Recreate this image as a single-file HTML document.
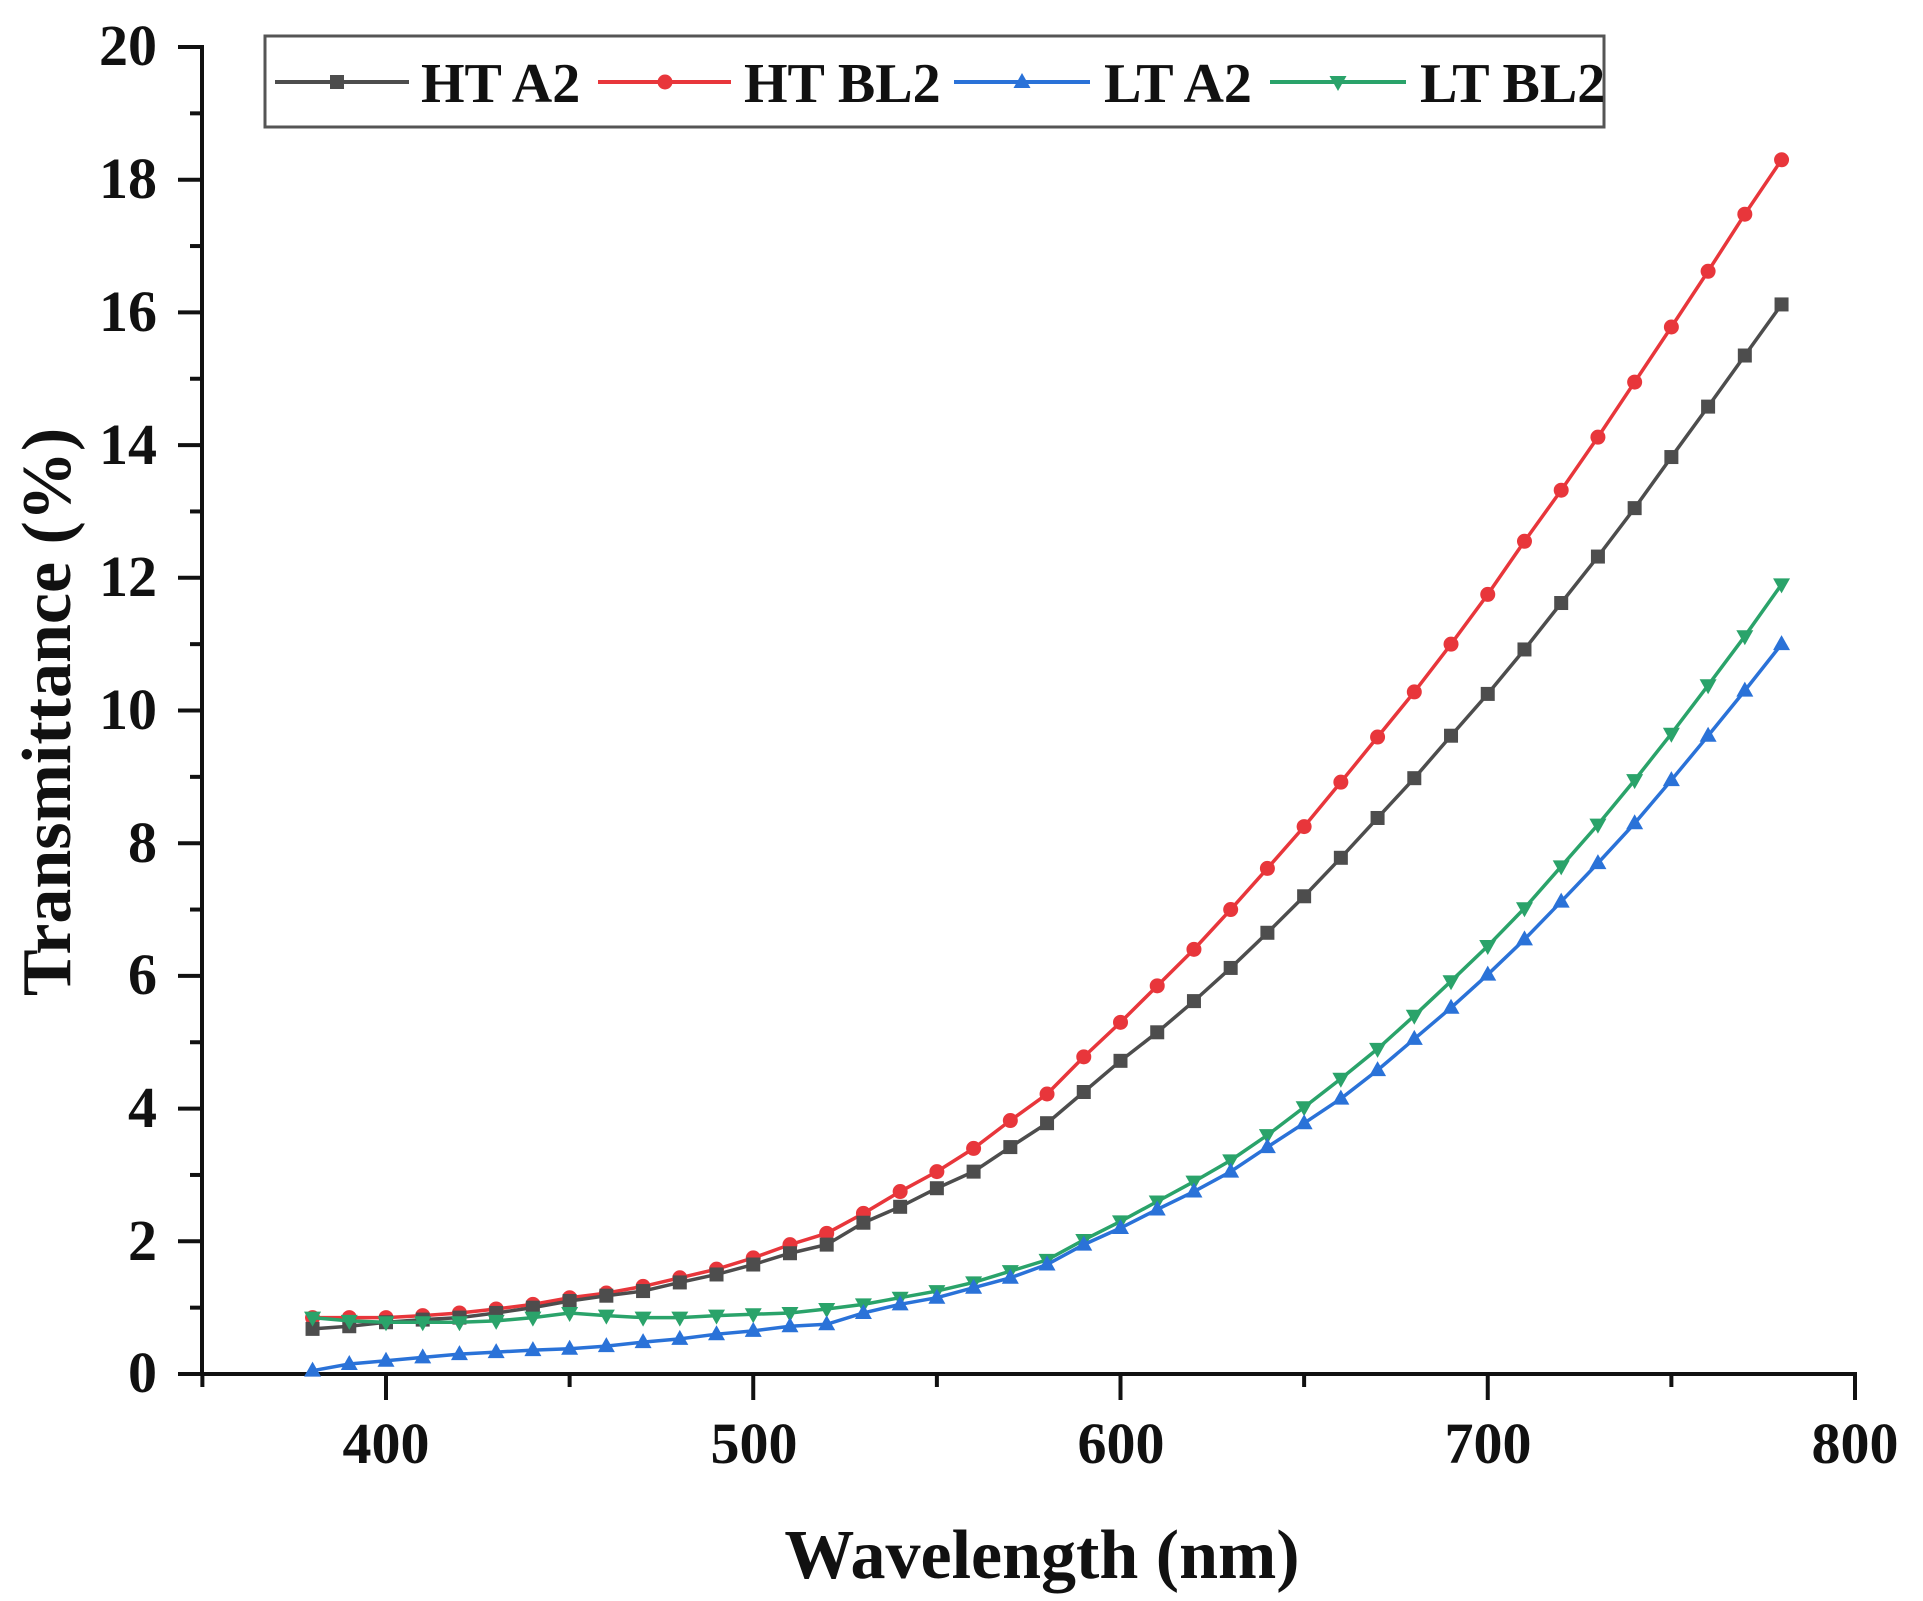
<!DOCTYPE html>
<html><head><meta charset="utf-8"><style>
html,body{margin:0;padding:0;background:#fff;}
svg{display:block;}
text{font-family:"Liberation Serif",serif;font-weight:bold;fill:#111;}
</style></head><body>
<svg id="s" width="1923" height="1601" viewBox="0 0 1923 1601" xmlns="http://www.w3.org/2000/svg">
<g id="axes" stroke="#111" stroke-width="4" fill="none"></g>
<g font-size="58">
<text x="157" y="1392" text-anchor="end">0</text>
<text x="157" y="1260" text-anchor="end">2</text>
<text x="157" y="1127" text-anchor="end">4</text>
<text x="157" y="994" text-anchor="end">6</text>
<text x="157" y="862" text-anchor="end">8</text>
<text x="157" y="729" text-anchor="end">10</text>
<text x="157" y="596" text-anchor="end">12</text>
<text x="157" y="464" text-anchor="end">14</text>
<text x="157" y="331" text-anchor="end">16</text>
<text x="157" y="198" text-anchor="end">18</text>
<text x="157" y="65" text-anchor="end">20</text>
<text x="386" y="1463" text-anchor="middle">400</text>
<text x="754" y="1463" text-anchor="middle">500</text>
<text x="1121" y="1463" text-anchor="middle">600</text>
<text x="1488" y="1463" text-anchor="middle">700</text>
<text x="1855" y="1463" text-anchor="middle">800</text>
</g>
<text x="1042" y="1578" text-anchor="middle" font-size="70">Wavelength (nm)</text>
<text transform="translate(70,712) rotate(-90)" text-anchor="middle" font-size="70">Transmittance (%)</text>
<rect x="265" y="36" width="1339" height="91" fill="#fff" stroke="#555" stroke-width="3"/>
<g font-size="56">
<text x="421" y="102">HT A2</text>
<text x="744" y="102">HT BL2</text>
<text x="1104" y="102">LT A2</text>
<text x="1420" y="102">LT BL2</text>
</g>
<g id="series"></g>
</svg>
<script>
const NS="http://www.w3.org/2000/svg";
const X=v=>386+(v-400)*3.6725, Y=v=>1374-v*66.35;
const ax=document.getElementById('axes');
function line(x1,y1,x2,y2,p){const l=document.createElementNS(NS,'line');l.setAttribute('x1',x1);l.setAttribute('y1',y1);l.setAttribute('x2',x2);l.setAttribute('y2',y2);(p||ax).appendChild(l);}
line(202,45,202,1376);line(200,1374,1857,1374);
for(let v=0;v<=20;v++){line(v%2?190:178,Y(v),202,Y(v));}
for(let w=350;w<=800;w+=50){line(X(w),1374,X(w),w%100?1387:1400);}
const xs=[];for(let w=380;w<=780;w+=10)xs.push(w);
const D={
htbl2:[0.85,0.85,0.85,0.88,0.92,0.98,1.05,1.15,1.22,1.32,1.45,1.58,1.75,1.95,2.12,2.42,2.75,3.05,3.4,3.82,4.22,4.78,5.3,5.85,6.4,7.0,7.62,8.25,8.92,9.6,10.28,11.0,11.75,12.55,13.32,14.12,14.95,15.78,16.62,17.48,18.3],
hta2:[0.68,0.72,0.78,0.82,0.85,0.92,1.0,1.1,1.18,1.25,1.38,1.5,1.65,1.82,1.95,2.28,2.52,2.8,3.05,3.42,3.78,4.25,4.72,5.15,5.62,6.12,6.65,7.2,7.78,8.38,8.98,9.62,10.25,10.92,11.62,12.32,13.05,13.82,14.58,15.35,16.12],
lta2:[0.05,0.15,0.2,0.25,0.3,0.33,0.36,0.38,0.42,0.48,0.53,0.6,0.65,0.72,0.75,0.92,1.05,1.15,1.3,1.45,1.65,1.95,2.2,2.48,2.75,3.05,3.42,3.78,4.15,4.58,5.05,5.52,6.02,6.55,7.12,7.7,8.3,8.95,9.62,10.3,11.0],
ltbl2:[0.85,0.8,0.78,0.78,0.78,0.8,0.85,0.92,0.88,0.85,0.85,0.88,0.9,0.92,0.98,1.05,1.15,1.25,1.38,1.55,1.72,2.02,2.3,2.6,2.9,3.22,3.6,4.02,4.45,4.9,5.4,5.92,6.45,7.02,7.65,8.28,8.95,9.65,10.38,11.12,11.9]};
const S=[['hta2','#4d4d4d','sq',275,409,337],['htbl2','#e8363b','ci',598,731,665],['lta2','#2a72d8','tu',954,1090,1022],['ltbl2','#2aa36a','td',1270,1406,1338]];
const g=document.getElementById('series');
function mk(t,x,y,c){let e;const r=7;
 if(t=='sq'){e=document.createElementNS(NS,'rect');e.setAttribute('x',x-r);e.setAttribute('y',y-r);e.setAttribute('width',2*r);e.setAttribute('height',2*r);}
 else if(t=='ci'){e=document.createElementNS(NS,'circle');e.setAttribute('cx',x);e.setAttribute('cy',y);e.setAttribute('r',r+0.5);}
 else{e=document.createElementNS(NS,'polygon');const s=t=='tu'?-1:1;e.setAttribute('points',`${x-8.5},${y-s*6} ${x+8.5},${y-s*6} ${x},${y+s*9}`);}
 e.setAttribute('fill',c);g.appendChild(e);}
for(const [k,c,t,l1,l2,m] of [S[1],S[0],S[3],S[2]]){
 const p=document.createElementNS(NS,'polyline');
 p.setAttribute('points',xs.map((w,i)=>X(w)+','+Y(D[k][i])).join(' '));
 p.setAttribute('fill','none');p.setAttribute('stroke',c);p.setAttribute('stroke-width','3.5');g.appendChild(p);
 xs.forEach((w,i)=>mk(t,X(w),Y(D[k][i]),c));
 const l=document.createElementNS(NS,'line');l.setAttribute('x1',l1);l.setAttribute('x2',l2);l.setAttribute('y1',82);l.setAttribute('y2',82);l.setAttribute('stroke',c);l.setAttribute('stroke-width','4');g.appendChild(l);
 mk(t,m,82,c);
}
</script>
</body></html>
